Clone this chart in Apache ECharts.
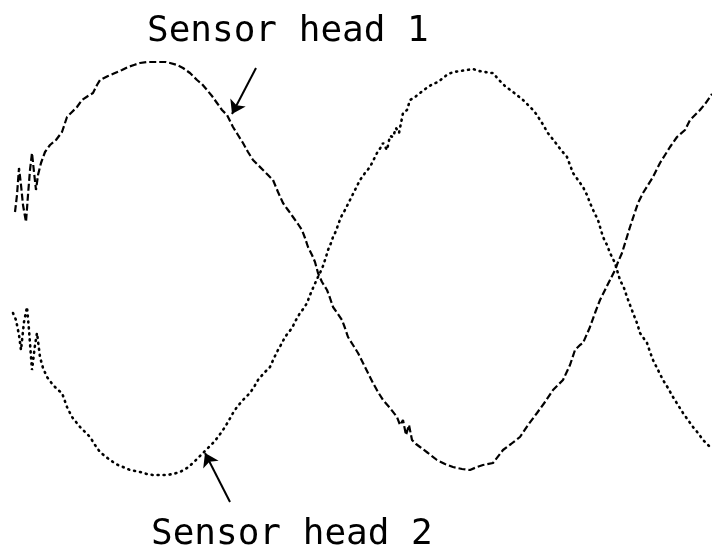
<!DOCTYPE html>
<html>
<head>
<meta charset="utf-8">
<script src="https://cdn.jsdelivr.net/npm/echarts@6/dist/echarts.min.js"></script>
<style>
  html, body { margin: 0; padding: 0; background: #fff; }
  #chart { width: 712px; height: 559px; }
</style>
</head>
<body>
<div id="chart"></div>
<script>
// Scan position (x) and signal level (y) for each sensor head.
const head1X = [15,17,19,21,23,26,28,30,32,34,36,38,41,45,50,56,62,67,72,77,82,88,93,97,100,108,115,122,128,134,140,147,153,160,166,170,177,183,190,197,202,207,212,217,222,227,233,238,243,248,253,258,263,268,273,278,283,288,293,298,302,305,308,312,315,318,322,327,330,333,338,342,345,348,353,358,363,368,373,378,383,390,397,400,403,406,409,412,416,420,428,437,445,453,462,470,477,483,493,503,511,520,528,537,545,553,563,570,575,580,583,590,595,600,605,610,615,618,622,626,630,634,638,643,648,653,660,665,670,677,685,690,695,700,705,712];
const head1Y = [68,85,112,95,75,58,85,110,127,108,90,105,117,128,135,140,148,163,168,173,180,184,187,195,200,204,207,210,213,215,217,218,218,218,218,217,215,212,207,200,196,190,184,177,170,165,153,145,137,128,120,115,110,105,100,88,77,70,63,56,50,42,33,25,18,7,-2,-10,-18,-27,-34,-40,-48,-57,-65,-73,-83,-93,-103,-112,-120,-128,-137,-145,-140,-155,-145,-160,-164,-167,-173,-180,-184,-187,-189,-190,-187,-185,-183,-170,-164,-157,-145,-133,-122,-110,-100,-85,-70,-65,-63,-47,-33,-20,-10,0,10,18,27,40,53,65,77,87,95,103,117,125,133,143,150,160,165,170,176,186];

const head2X = [13,16,19,21,24,27,29,32,35,37,40,43,47,50,53,58,62,67,72,76,80,85,90,95,100,106,113,118,123,130,140,147,153,160,167,173,180,187,193,198,203,208,213,218,223,228,233,237,243,250,254,258,264,270,274,278,282,285,292,296,300,304,307,310,313,317,320,323,326,328,331,333,336,338,341,345,350,355,360,365,370,377,381,383,387,390,393,396,399,403,407,410,415,420,424,428,433,438,443,448,454,460,467,473,479,485,490,493,499,505,509,513,518,523,528,533,537,540,544,547,551,555,561,567,573,578,583,587,590,594,598,603,607,610,615,617,620,624,627,630,633,637,640,647,650,653,658,663,668,673,678,683,688,693,698,703,710];
const head2Y = [-33,-40,-55,-70,-42,-27,-50,-90,-65,-53,-77,-88,-97,-101,-105,-110,-113,-127,-137,-142,-147,-152,-157,-165,-172,-177,-182,-185,-187,-190,-192,-194,-195,-195,-195,-194,-192,-188,-183,-178,-173,-168,-163,-157,-150,-142,-133,-127,-120,-113,-107,-100,-93,-87,-78,-70,-63,-57,-48,-40,-33,-28,-23,-15,-8,1,7,14,23,30,37,43,49,55,63,70,80,90,100,107,113,127,133,137,130,144,143,152,147,167,170,180,183,187,190,193,196,198,202,206,208,209,210,211,209,208,207,207,200,194,191,188,184,180,175,170,165,160,154,148,143,138,130,123,107,100,93,85,77,68,60,43,35,27,17,10,0,-8,-17,-25,-33,-43,-53,-63,-72,-80,-90,-100,-108,-117,-125,-133,-140,-147,-153,-160,-167];

// Annotation labels and the arrows pointing at each trace.
const labelText = ['Sensor head 1', 'Sensor head 2'];
const arrow1 = [[256, 212], [232, 166]];
const arrow2 = [[230, -222], [205, -173]];

const pair = (xs, ys) => xs.map((x, i) => [x, ys[i]]);

const arrowLine = (from, to) => ({
  silent: true,
  symbol: ['none', 'arrow'],
  symbolSize: 13,
  lineStyle: { type: 'solid', width: 2, color: '#000' },
  label: { show: false },
  data: [[{ coord: from }, { coord: to }]]
});

const chart = echarts.init(document.getElementById('chart'), null, { renderer: 'canvas' });
chart.setOption({
  animation: false,
  backgroundColor: '#fff',
  grid: { left: 0, right: 0, top: 0, bottom: 0 },
  xAxis: { type: 'value', min: 0, max: 712, show: false },
  yAxis: { type: 'value', min: -279, max: 280, show: false },
  series: [
    {
      name: labelText[0],
      type: 'line',
      data: pair(head1X, head1Y),
      showSymbol: false,
      smooth: false,
      lineStyle: { color: '#000', width: 2.2, type: [7, 3] },
      markLine: arrowLine(arrow1[0], arrow1[1])
    },
    {
      name: labelText[1],
      type: 'line',
      data: pair(head2X, head2Y),
      showSymbol: false,
      smooth: false,
      lineStyle: { color: '#000', width: 2.6, type: [1, 5], cap: 'round' },
      markLine: arrowLine(arrow2[0], arrow2[1])
    }
  ],
  graphic: [
    {
      type: 'text', left: 147, top: 14,
      style: { text: labelText[0], font: '36px "DejaVu Sans Mono"', fill: '#000' }
    },
    {
      type: 'text', left: 151, top: 517,
      style: { text: labelText[1], font: '36px "DejaVu Sans Mono"', fill: '#000' }
    }
  ]
});
</script>
</body>
</html>
